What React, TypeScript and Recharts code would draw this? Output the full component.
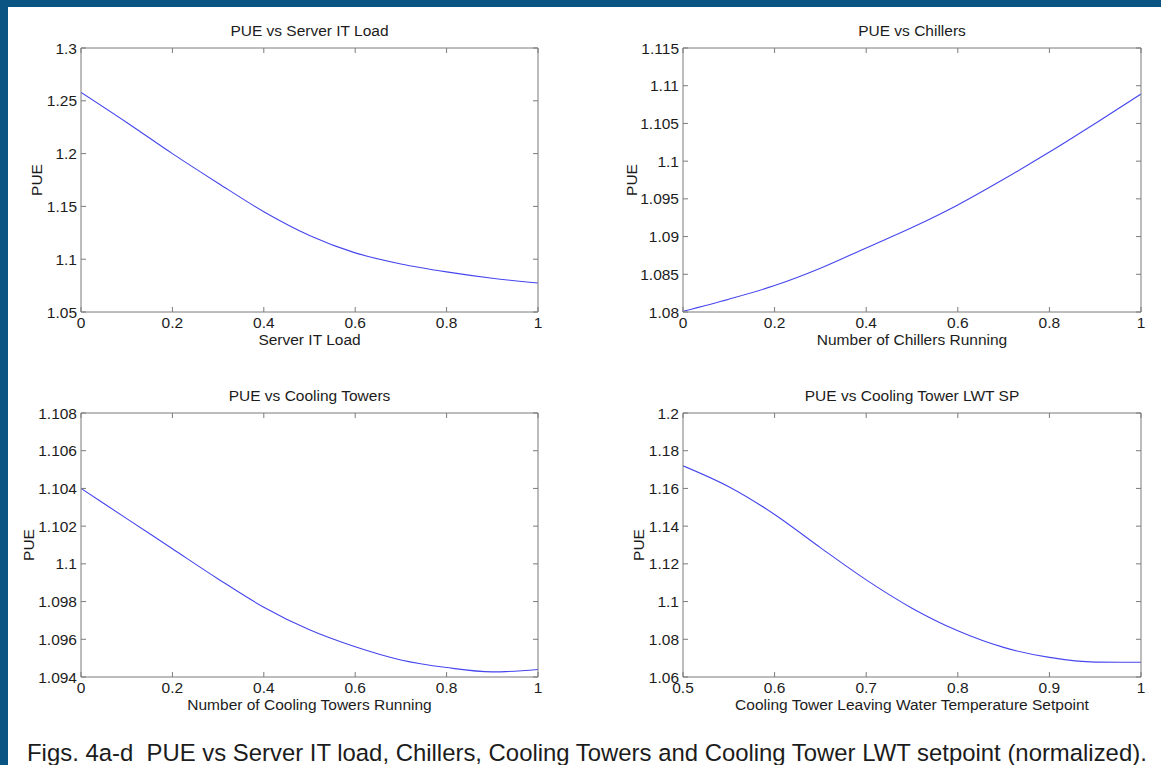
import React from 'react';
import { LineChart, Line, XAxis, YAxis, Label } from 'recharts';

const FRAME_BLUE = '#0a5483';
const AXIS_GRAY = '#7b7b7b';
const TEXT_COLOR = '#1c1c1c';
const CURVE_BLUE = '#4646ee';
const FONT = '"Liberation Sans", Arial, sans-serif';
const FS = 15.5;
const TICK_LEN = 5;

// x samples (normalized)
const unitX = [0, 0.1, 0.2, 0.3, 0.4, 0.5, 0.6, 0.7, 0.8, 0.9, 1];
const lwtX = [0.5, 0.55, 0.6, 0.65, 0.7, 0.75, 0.8, 0.85, 0.9, 0.95, 1];

// PUE
const itLoadPue = [1.258, 1.2295, 1.2, 1.172, 1.145, 1.1225, 1.106, 1.0955, 1.088, 1.082, 1.0775];
const chillersPue = [1.0801, 1.0817, 1.0835, 1.0858, 1.0885, 1.0912, 1.0942, 1.0976, 1.1012, 1.105, 1.1089];
const towersPue = [1.104, 1.1024, 1.1008, 1.0992, 1.0977, 1.0965, 1.0956, 1.0949, 1.0945, 1.09427, 1.0944];
const lwtPue = [1.172, 1.1609, 1.1462, 1.1286, 1.1115, 1.0965, 1.0845, 1.0757, 1.0704, 1.0679, 1.0678];

// tick labels
const unitTicks = [0, 0.2, 0.4, 0.6, 0.8, 1];
const lwtTicks = [0.5, 0.6, 0.7, 0.8, 0.9, 1];
const itLoadTicks = [1.05, 1.1, 1.15, 1.2, 1.25, 1.3];
const chillerTicks = [1.08, 1.085, 1.09, 1.095, 1.1, 1.105, 1.11, 1.115];
const towerTicks = [1.094, 1.096, 1.098, 1.1, 1.102, 1.104, 1.106, 1.108];
const lwtPueTicks = [1.06, 1.08, 1.1, 1.12, 1.14, 1.16, 1.18, 1.2];

const PLOT_H = 264;
const PAD_L = 70;
const PAD_T = 50;
const PAD_R = 12;
const PAD_B = 45;

const textProps = { fontFamily: FONT, fontSize: FS, fill: TEXT_COLOR, stroke: 'none' };

const BottomTick = (p: any) => (
  <g>
    <line x1={p.x} y1={p.y} x2={p.x} y2={p.y - TICK_LEN} stroke={AXIS_GRAY} />
    <text x={p.x} y={p.y + 15.5} textAnchor="middle" {...textProps}>{String(p.payload.value)}</text>
  </g>
);

const TopTick = (p: any) => (
  <line x1={p.x} y1={p.y} x2={p.x} y2={p.y + TICK_LEN} stroke={AXIS_GRAY} />
);

const LeftTick = (p: any) => (
  <g>
    <line x1={p.x} y1={p.y} x2={p.x + TICK_LEN} y2={p.y} stroke={AXIS_GRAY} />
    <text x={p.x - 4} y={p.y + 5.5} textAnchor="end" {...textProps}>{String(p.payload.value)}</text>
  </g>
);

const RightTick = (p: any) => (
  <line x1={p.x} y1={p.y} x2={p.x - TICK_LEN} y2={p.y} stroke={AXIS_GRAY} />
);

interface PanelProps {
  left: number;
  top: number;
  width: number;
  xs: number[];
  ys: number[];
  xTicks: number[];
  yTicks: number[];
  title: string;
  xLabel: string;
  yLabelGap: number;
}

function Panel({ left, top, width, xs, ys, xTicks, yTicks, title, xLabel, yLabelGap }: PanelProps) {
  const data = xs.map((x, i) => ({ x, pue: ys[i] }));
  const xDomain = [xTicks[0], xTicks[xTicks.length - 1]];
  const yDomain = [yTicks[0], yTicks[yTicks.length - 1]];
  const cx = PAD_L + width / 2;

  // the extra axes are 1px thick (zero-size axes are not drawn), margins absorb that
  return (
    <div style={{ position: 'absolute', left: left - PAD_L, top: top - PAD_T }}>
      <LineChart
        width={width + PAD_L + PAD_R}
        height={PLOT_H + PAD_T + PAD_B}
        data={data}
        margin={{ top: PAD_T - 1, right: PAD_R - 1, bottom: PAD_B - 1, left: 0 }}
      >
        <XAxis
          xAxisId="b"
          dataKey="x"
          type="number"
          domain={xDomain}
          allowDataOverflow
          ticks={xTicks}
          interval={0}
          height={1}
          tickSize={0}
          tickMargin={0}
          tickLine={false}
          axisLine={{ stroke: AXIS_GRAY }}
          tick={<BottomTick />}
        >
          <Label
            content={() => (
              <text x={cx} y={PAD_T + PLOT_H + 32.5} textAnchor="middle" {...textProps}>{xLabel}</text>
            )}
          />
        </XAxis>
        <XAxis
          xAxisId="t"
          dataKey="x"
          orientation="top"
          type="number"
          domain={xDomain}
          allowDataOverflow
          ticks={xTicks}
          interval={0}
          height={1}
          tickSize={0}
          tickMargin={0}
          tickLine={false}
          axisLine={{ stroke: AXIS_GRAY }}
          tick={<TopTick />}
        >
          <Label
            content={() => (
              <text x={cx} y={PAD_T - 12.3} textAnchor="middle" {...textProps}>{title}</text>
            )}
          />
        </XAxis>
        <YAxis
          yAxisId="l"
          type="number"
          domain={yDomain}
          allowDataOverflow
          ticks={yTicks}
          interval={0}
          width={PAD_L}
          tickSize={0}
          tickMargin={0}
          tickLine={false}
          axisLine={{ stroke: AXIS_GRAY }}
          tick={<LeftTick />}
        >
          <Label
            content={() => (
              <text
                transform={`translate(${PAD_L - yLabelGap},${PAD_T + PLOT_H / 2}) rotate(-90)`}
                textAnchor="middle"
                dy="0.36em"
                {...textProps}
              >
                PUE
              </text>
            )}
          />
        </YAxis>
        <YAxis
          yAxisId="r"
          orientation="right"
          type="number"
          domain={yDomain}
          allowDataOverflow
          ticks={yTicks}
          interval={0}
          width={1}
          tickSize={0}
          tickMargin={0}
          tickLine={false}
          axisLine={{ stroke: AXIS_GRAY }}
          tick={<RightTick />}
        />
        <Line
          xAxisId="b"
          yAxisId="l"
          type="monotone"
          dataKey="pue"
          stroke={CURVE_BLUE}
          strokeWidth={1.1}
          dot={false}
          isAnimationActive={false}
        />
      </LineChart>
    </div>
  );
}

export default function App() {
  return (
    <div
      style={{
        position: 'absolute',
        left: 0,
        top: 0,
        width: 1161,
        height: 765,
        background: '#ffffff',
        overflow: 'hidden',
      }}
    >
      <div style={{ position: 'absolute', left: 0, top: 0, width: 1161, height: 7, background: FRAME_BLUE }} />
      <div style={{ position: 'absolute', left: 0, top: 0, width: 8, height: 765, background: FRAME_BLUE }} />

      <Panel left={81} top={48} width={457} xs={unitX} ys={itLoadPue} xTicks={unitTicks} yTicks={itLoadTicks}
        title="PUE vs Server IT Load" xLabel="Server IT Load" yLabelGap={45} />
      <Panel left={683} top={48} width={458} xs={unitX} ys={chillersPue} xTicks={unitTicks} yTicks={chillerTicks}
        title="PUE vs Chillers" xLabel="Number of Chillers Running" yLabelGap={52} />
      <Panel left={81} top={413} width={457} xs={unitX} ys={towersPue} xTicks={unitTicks} yTicks={towerTicks}
        title="PUE vs Cooling Towers" xLabel="Number of Cooling Towers Running" yLabelGap={53} />
      <Panel left={683} top={413} width={458} xs={lwtX} ys={lwtPue} xTicks={lwtTicks} yTicks={lwtPueTicks}
        title="PUE vs Cooling Tower LWT SP" xLabel="Cooling Tower Leaving Water Temperature Setpoint" yLabelGap={45} />

      <div
        style={{
          position: 'absolute',
          left: 27,
          top: 741,
          fontFamily: FONT,
          fontSize: 23.9,
          lineHeight: 1,
          color: TEXT_COLOR,
          whiteSpace: 'pre',
        }}
      >
        {'Figs. 4a-d  PUE vs Server IT load, Chillers, Cooling Towers and Cooling Tower LWT setpoint (normalized).'}
      </div>
    </div>
  );
}
